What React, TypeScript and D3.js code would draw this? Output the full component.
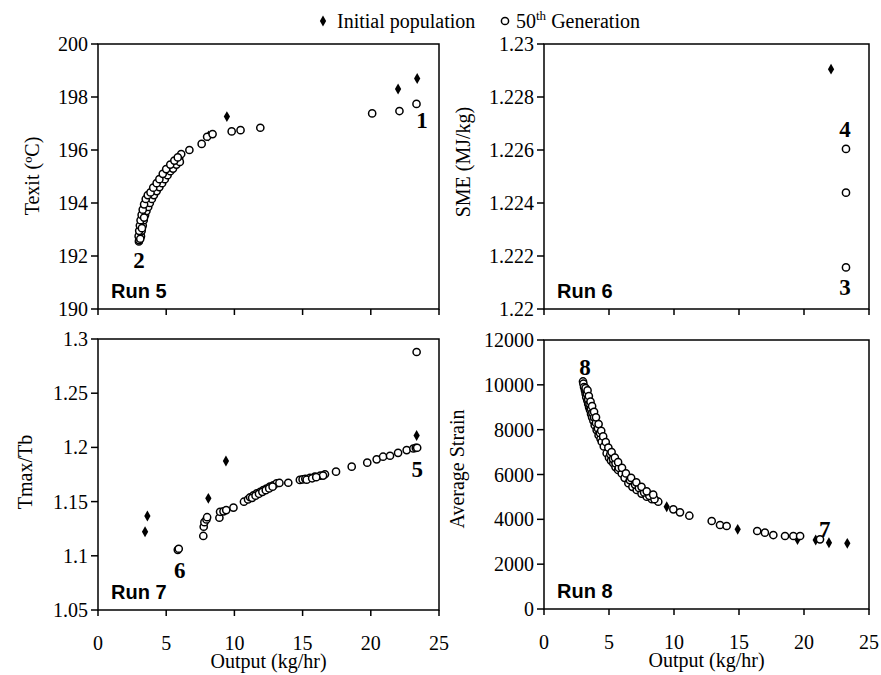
import React from "react";
import * as d3 from "d3";

// ---------------- data ----------------
const xTicks = [0, 5, 10, 15, 20, 25];

const run5Initial: [number, number][] = [
  [3.6, 194.25], [4.2, 194.55], [5.4, 195.5], [8.1, 196.53], [9.45, 197.26], [22.0, 198.3], [23.4, 198.7],
];
const run5Final: [number, number][] = [
  [3.0, 192.55], [3.02, 192.6], [3.05, 192.7], [3.08, 192.8], [3.1, 192.9], [3.13, 193.0], [3.17, 193.1],
  [3.2, 193.2], [3.25, 193.3], [3.3, 193.4], [3.35, 193.5], [3.4, 193.6], [3.45, 193.7], [3.5, 193.8],
  [3.6, 193.95], [3.7, 194.05], [3.8, 194.2], [3.9, 194.3], [4.0, 194.4], [4.1, 194.5], [4.25, 194.6],
  [4.4, 194.7], [4.55, 194.85], [4.7, 194.95], [4.85, 195.05], [5.0, 195.15], [5.2, 195.3], [5.4, 195.4],
  [5.6, 195.5], [5.8, 195.6], [5.95, 195.7], [6.1, 195.85], [6.7, 196.0], [7.6, 196.23], [8.0, 196.5],
  [8.4, 196.6], [9.8, 196.7], [10.45, 196.75], [11.9, 196.84], [20.1, 197.38], [22.1, 197.47], [23.35, 197.74],
  [3.15, 192.75], [3.2, 192.95], [3.28, 193.15], [3.35, 193.35], [3.45, 193.55], [3.55, 193.7], [3.68, 193.85],
  [3.8, 194.0], [3.95, 194.15], [4.1, 194.3], [4.3, 194.45], [4.5, 194.6], [4.7, 194.75], [4.9, 194.9],
  [5.1, 195.05], [5.3, 195.2], [5.5, 195.3], [5.75, 195.45], [6.0, 195.55],
  [2.98, 192.75], [3.02, 192.95], [3.07, 193.15], [3.12, 193.35], [3.2, 193.55], [3.28, 193.75], [3.38, 193.95],
  [3.5, 194.15], [3.65, 194.3], [3.85, 194.4], [4.05, 194.58], [4.3, 194.75], [4.5, 194.9], [4.75, 195.1],
  [5.0, 195.28], [5.3, 195.45], [5.6, 195.6], [5.85, 195.72], [3.1, 192.65], [3.22, 193.05], [3.38, 193.45],
];
const run5YTicks = [190, 192, 194, 196, 198, 200];
const run5YLabels = ["190", "192", "194", "196", "198", "200"];

const run6Initial: [number, number][] = [[22.08, 1.22905]];
const run6Final: [number, number][] = [[23.23, 1.22604], [23.23, 1.22439], [23.23, 1.22157]];
const run6YTicks = [1.22, 1.222, 1.224, 1.226, 1.228, 1.23];
const run6YLabels = ["1.22", "1.222", "1.224", "1.226", "1.228", "1.23"];

const run7Initial: [number, number][] = [
  [3.45, 1.1222], [3.62, 1.1367], [8.09, 1.153], [9.38, 1.1875], [23.36, 1.211],
];
const run7Final: [number, number][] = [
  [5.85, 1.1055], [5.92, 1.1065], [7.72, 1.1183], [7.75, 1.1268], [7.8, 1.131], [7.95, 1.1335], [8.0, 1.1356],
  [8.9, 1.1351], [8.95, 1.1406], [9.2, 1.141], [9.4, 1.1422], [9.93, 1.1444], [10.7, 1.1499], [11.0, 1.152],
  [11.15, 1.154], [11.4, 1.1558], [11.64, 1.1577], [11.9, 1.159], [12.12, 1.1607], [12.35, 1.162], [12.6, 1.1638],
  [12.85, 1.165], [13.1, 1.1669], [13.3, 1.1672], [13.95, 1.1674], [14.8, 1.17], [15.0, 1.1705], [15.2, 1.171],
  [15.54, 1.172], [15.9, 1.173], [16.3, 1.1739], [16.64, 1.1752], [17.45, 1.1776], [18.6, 1.1822], [19.74, 1.1859],
  [20.43, 1.189], [20.9, 1.1914], [21.41, 1.1923], [22.0, 1.195], [22.63, 1.1975], [23.12, 1.199], [23.3, 1.1995],
  [23.4, 1.1997], [23.36, 1.288],
  [11.3, 1.1535], [11.55, 1.1555], [11.8, 1.1572], [12.05, 1.159], [12.3, 1.1605], [12.55, 1.1622], [12.8, 1.1638],
  [15.3, 1.1702], [15.7, 1.1715], [16.5, 1.174], [16.0, 1.1725],
];
const run7YTicks = [1.05, 1.1, 1.15, 1.2, 1.25, 1.3];
const run7YLabels = ["1.05", "1.1", "1.15", "1.2", "1.25", "1.3"];

const run8Initial: [number, number][] = [
  [5.0, 7000], [7.5, 5200], [9.44, 4563], [14.9, 3553], [19.5, 3100], [20.9, 3078], [21.92, 2957], [23.33, 2930],
];
const run8Final: [number, number][] = [
  [3.0, 10150], [3.03, 10050], [3.08, 9900], [3.15, 9750], [3.2, 9600], [3.25, 9450], [3.33, 9300], [3.4, 9150],
  [3.47, 9000], [3.54, 8880], [3.62, 8700], [3.7, 8550], [3.8, 8400], [3.9, 8200], [4.05, 7980], [4.2, 7750],
  [4.35, 7600], [4.44, 7460], [4.6, 7250], [4.82, 6950], [5.0, 6750], [5.15, 6620], [5.33, 6500], [5.5, 6330],
  [5.7, 6200], [5.98, 6050], [6.2, 5850], [6.49, 5610], [6.8, 5450], [7.13, 5310], [7.5, 5150], [7.9, 5010],
  [8.3, 4900], [8.79, 4786], [9.95, 4447], [10.46, 4313], [11.18, 4162], [12.9, 3925], [13.54, 3747], [14.05, 3702],
  [16.4, 3479], [16.99, 3405], [17.64, 3300], [18.54, 3256], [19.18, 3256], [19.7, 3256], [21.23, 3108],
  [3.2, 9850], [3.3, 9600], [3.4, 9350], [3.5, 9150], [3.6, 8950], [3.72, 8750], [3.85, 8550], [4.0, 8300],
  [4.15, 8050], [4.3, 7850], [5.1, 6900], [5.3, 6700], [5.5, 6500], [5.75, 6300], [6.6, 5750], [7.0, 5550],
  [7.3, 5400], [7.7, 5200], [8.1, 5050], [8.5, 4900],
  [3.35, 9750], [3.45, 9500], [3.58, 9250], [3.7, 9050], [3.85, 8800], [4.0, 8550], [4.2, 8250], [4.4, 7950],
  [4.55, 7700], [4.75, 7450], [4.95, 7200], [5.2, 7000], [5.45, 6750], [5.7, 6550], [6.0, 6300], [6.3, 6050],
  [6.7, 5850], [7.1, 5650], [7.5, 5450], [7.9, 5250], [8.4, 5100],
];
const run8YTicks = [0, 2000, 4000, 6000, 8000, 10000, 12000];
const run8YLabels = ["0", "2000", "4000", "6000", "8000", "10000", "12000"];

// point annotations: [label, x, y] in data units
const run5Notes: [string, number, number][] = [["1", 23.75, 196.83], ["2", 3.0, 191.55]];
const run6Notes: [string, number, number][] = [["4", 23.15, 1.22649], ["3", 23.15, 1.22053]];
const run7Notes: [string, number, number][] = [["6", 6.0, 1.0795], ["5", 23.4, 1.1727]];
const run8Notes: [string, number, number][] = [["8", 3.15, 10437], ["7", 21.6, 3211]];

// ---------------- layout ----------------
const SERIF = "Liberation Serif";
const SANS = "Liberation Sans";

type PanelProps = {
  left: number; right: number; top: number; bottom: number;
  yDomain: [number, number];
  yTicks: number[]; yLabels: string[];
  initial: [number, number][]; final: [number, number][];
  notes: [string, number, number][];
  run: string; yTitle: string; yTitleX: number; yTitleY: number;
  showXLabels: boolean;
};

const serif = (size: number, bold = false): React.CSSProperties => ({
  fontFamily: SERIF, fontSize: size, fontWeight: bold ? "bold" : "normal",
});

function Panel(p: PanelProps) {
  const x = d3.scaleLinear().domain([0, 25]).range([p.left, p.right]);
  const y = d3.scaleLinear().domain(p.yDomain).range([p.bottom, p.top]);
  const diamond = d3.symbol().type(d3.symbolDiamond).size(34)();
  return (
    <g>
      <rect x={p.left} y={p.top} width={p.right - p.left} height={p.bottom - p.top}
        fill="none" stroke="#000" strokeWidth={1.5} />
      {xTicks.map((t) => (
        <g key={"xt" + t}>
          <line x1={x(t)} x2={x(t)} y1={p.bottom} y2={p.bottom + 6} stroke="#000" strokeWidth={1.5} />
          {p.showXLabels && (
            <text x={x(t)} y={p.bottom + 40} textAnchor="middle" style={serif(20)}>{t}</text>
          )}
        </g>
      ))}
      {p.yTicks.map((t, i) => (
        <g key={"yt" + t}>
          <line x1={p.left - 7} x2={p.left} y1={y(t)} y2={y(t)} stroke="#000" strokeWidth={1.5} />
          <text x={p.left - 10} y={y(t)} dy="0.35em" textAnchor="end" style={serif(20)}>
            {p.yLabels[i]}
          </text>
        </g>
      ))}
      {p.showXLabels && (
        <text x={(p.left + p.right) / 2} y={p.bottom + 58} textAnchor="middle" style={serif(20)}>
          Output (kg/hr)
        </text>
      )}
      <text transform={`translate(${p.yTitleX},${p.yTitleY}) rotate(-90)`} textAnchor="middle"
        dy="0.35em" style={serif(20)}>{p.yTitle}</text>
      {p.initial.map((d, i) => (
        <path key={"i" + i} d={diamond} transform={`translate(${x(d[0])},${y(d[1])})`} fill="#000" />
      ))}
      {p.final.map((d, i) => (
        <circle key={"f" + i} cx={x(d[0])} cy={y(d[1])} r={3.6} fill="#fff" stroke="#000" strokeWidth={1.5} />
      ))}
      {p.notes.map((n) => (
        <text key={"n" + n[0]} x={x(n[1])} y={y(n[2])} textAnchor="middle" style={serif(23, true)}>{n[0]}</text>
      ))}
      <text x={p.left + 13} y={p.bottom - 11} style={{ fontFamily: SANS, fontWeight: "bold", fontSize: 20 }}>{p.run}</text>
    </g>
  );
}

export default function App() {
  return (
    <svg width={881} height={675} style={{ position: "absolute", left: 0, top: 0, background: "#fff" }}>
      <rect width={881} height={675} fill="#fff" />
      {/* legend */}
      <path d={d3.symbol().type(d3.symbolDiamond).size(34)()} transform="translate(323,21)" fill="#000" />
      <text x={337} y={28} style={serif(20)}>Initial population</text>
      <circle cx={505} cy={21} r={3.6} fill="#fff" stroke="#000" strokeWidth={1.5} />
      <text x={516} y={28} style={serif(20)}>
        50<tspan style={{ fontSize: 13 }} dy={-8}>th</tspan><tspan dy={8}> Generation</tspan>
      </text>

      <Panel left={98} right={439} top={44} bottom={309} yDomain={[190, 200]}
        yTicks={run5YTicks} yLabels={run5YLabels} initial={run5Initial} final={run5Final}
        notes={run5Notes} run="Run 5" yTitle="Texit (ºC)" yTitleX={32} yTitleY={176} showXLabels={false} />
      <Panel left={544} right={869} top={44} bottom={309} yDomain={[1.22, 1.23]}
        yTicks={run6YTicks} yLabels={run6YLabels} initial={run6Initial} final={run6Final}
        notes={run6Notes} run="Run 6" yTitle="SME (MJ/kg)" yTitleX={463} yTitleY={162} showXLabels={false} />
      <Panel left={98} right={439} top={339} bottom={610} yDomain={[1.05, 1.3]}
        yTicks={run7YTicks} yLabels={run7YLabels} initial={run7Initial} final={run7Final}
        notes={run7Notes} run="Run 7" yTitle="Tmax/Tb" yTitleX={25} yTitleY={472} showXLabels={true} />
      <Panel left={544} right={869} top={340} bottom={609} yDomain={[0, 12000]}
        yTicks={run8YTicks} yLabels={run8YLabels} initial={run8Initial} final={run8Final}
        notes={run8Notes} run="Run 8" yTitle="Average Strain" yTitleX={457} yTitleY={469} showXLabels={true} />
    </svg>
  );
}
